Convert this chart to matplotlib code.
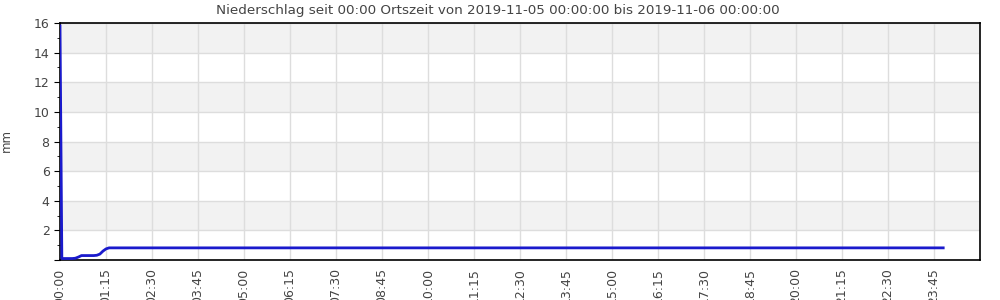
import matplotlib
matplotlib.use("Agg")
import matplotlib.pyplot as plt
from matplotlib.ticker import MultipleLocator, FuncFormatter, FixedLocator

# Data: minutes since 00:00, precipitation in mm
minutes = [0, 3, 10, 20, 25, 30, 35, 45, 55, 60, 65, 70, 75, 80, 90, 120, 240, 480, 720, 960, 1200, 1440]
precip = [15.8, 0.1, 0.1, 0.1, 0.12, 0.2, 0.3, 0.3, 0.3, 0.32, 0.4, 0.6, 0.75, 0.82, 0.82, 0.82, 0.82, 0.82, 0.82, 0.82, 0.82, 0.82]

tick_minutes = list(range(0, 1440, 75))
title = "Niederschlag seit 00:00 Ortszeit von 2019-11-05 00:00:00 bis 2019-11-06 00:00:00"
ylabel = "mm"

fig = plt.figure(figsize=(10, 3), dpi=100)
ax = fig.add_axes([0.06, 0.1333, 0.92, 0.79])

ax.set_xlim(0, 1500)
ax.set_ylim(0, 16)

# alternating bands
for y0 in range(0, 16, 4):
    ax.axhspan(y0 + 2, y0 + 4, color="#f2f2f2", zorder=0, lw=0)

ax.plot(minutes, precip, color="#1a1acc", lw=2, zorder=3)

ax.xaxis.set_major_locator(FixedLocator(tick_minutes))
ax.xaxis.set_major_formatter(FuncFormatter(lambda v, p: f"{int(v)//60:02d}:{int(v)%60:02d}"))
ax.yaxis.set_major_locator(MultipleLocator(2))
ax.yaxis.set_minor_locator(MultipleLocator(1))
ax.yaxis.set_major_formatter(FuncFormatter(lambda v, p: "" if v == 0 else f"{int(v)}"))

ax.grid(True, which="major", color="#dddddd", lw=1, zorder=1)
ax.set_axisbelow(True)

ax.tick_params(axis="x", length=0, pad=6, labelsize=9, labelcolor="#444444", labelrotation=90)
ax.tick_params(axis="y", which="major", length=4, labelsize=9, labelcolor="#444444")
ax.tick_params(axis="y", which="minor", length=2)

for s in ax.spines.values():
    s.set_color("black")
    s.set_linewidth(1.2)

fig.text(0.498, 0.965, title, fontsize=9.7, color="#444444", ha="center", va="center")
fig.text(0.0065, 0.533, ylabel, rotation=90, fontsize=8.5, color="#444444", va="center", ha="center")

fig.savefig("out.png", dpi=100)
